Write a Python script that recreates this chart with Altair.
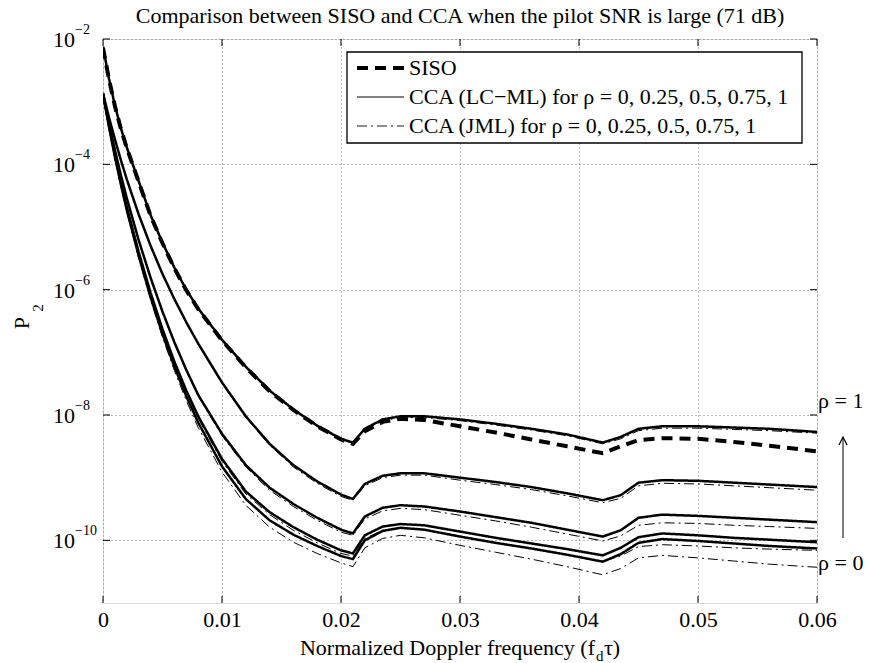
import altair as alt
import pandas as pd

# ---------------- data (log10 of P2) ----------------
x_vals = [0, 0.0005, 0.001, 0.0015, 0.002, 0.003, 0.004, 0.005, 0.006, 0.007, 0.008,
          0.010, 0.012, 0.014, 0.016, 0.018, 0.020, 0.021, 0.022, 0.0235, 0.025, 0.027,
          0.030, 0.033, 0.036, 0.039, 0.042, 0.0435, 0.045, 0.047, 0.050, 0.053, 0.056, 0.060]

siso_log = [-2.14, -2.64, -3.07, -3.43, -3.74, -4.28, -4.82, -5.26, -5.66, -6.01, -6.31,
            -6.81, -7.24, -7.62, -7.92, -8.18, -8.39, -8.46, -8.26, -8.11, -8.06, -8.08,
            -8.18, -8.28, -8.39, -8.50, -8.61, -8.50, -8.40, -8.37, -8.38, -8.43, -8.49, -8.58]

lcml_rho1 = [-2.12, -2.63, -3.06, -3.42, -3.73, -4.27, -4.81, -5.25, -5.65, -6.00, -6.30,
             -6.80, -7.23, -7.61, -7.91, -8.17, -8.38, -8.44, -8.22, -8.07, -8.02, -8.02,
             -8.07, -8.14, -8.22, -8.31, -8.44, -8.35, -8.22, -8.18, -8.18, -8.20, -8.22, -8.27]
lcml_rho075 = [-2.87, -3.25, -3.60, -3.93, -4.24, -4.80, -5.30, -5.75, -6.15, -6.52, -6.86,
               -7.48, -8.02, -8.46, -8.80, -9.06, -9.27, -9.34, -9.10, -8.97, -8.93, -8.93,
               -9.00, -9.07, -9.15, -9.25, -9.36, -9.28, -9.08, -9.04, -9.05, -9.08, -9.11, -9.15]
lcml_rho05 = [-2.87, -3.34, -3.77, -4.17, -4.54, -5.21, -5.81, -6.35, -6.84, -7.28, -7.68,
              -8.30, -8.80, -9.16, -9.42, -9.64, -9.83, -9.89, -9.62, -9.48, -9.44, -9.46,
              -9.54, -9.63, -9.72, -9.83, -9.94, -9.84, -9.64, -9.59, -9.61, -9.64, -9.67, -9.71]
lcml_rho025 = [-2.87, -3.38, -3.85, -4.28, -4.68, -5.40, -6.05, -6.63, -7.15, -7.61, -8.02,
               -8.70, -9.22, -9.55, -9.79, -9.99, -10.16, -10.21, -9.92, -9.78, -9.74, -9.76,
               -9.86, -9.96, -10.05, -10.14, -10.24, -10.12, -9.95, -9.89, -9.92, -9.96, -9.99, -10.03]
lcml_rho0 = [-2.87, -3.40, -3.88, -4.32, -4.73, -5.46, -6.12, -6.71, -7.23, -7.70, -8.12,
             -8.82, -9.34, -9.68, -9.91, -10.09, -10.25, -10.30, -10.00, -9.85, -9.80, -9.83,
             -9.94, -10.04, -10.13, -10.23, -10.34, -10.22, -10.04, -9.98, -10.01, -10.05, -10.09, -10.13]

jml_rho1 = [-2.14, -2.64, -3.07, -3.43, -3.74, -4.28, -4.82, -5.26, -5.66, -6.01, -6.31,
            -6.81, -7.24, -7.62, -7.92, -8.18, -8.39, -8.45, -8.24, -8.09, -8.04, -8.04,
            -8.09, -8.16, -8.24, -8.33, -8.46, -8.38, -8.25, -8.21, -8.21, -8.23, -8.25, -8.29]
jml_rho075 = [-2.88, -3.26, -3.61, -3.94, -4.25, -4.81, -5.31, -5.76, -6.16, -6.53, -6.87,
              -7.50, -8.04, -8.48, -8.83, -9.09, -9.30, -9.36, -9.13, -9.00, -8.96, -8.96,
              -9.04, -9.11, -9.19, -9.29, -9.40, -9.33, -9.13, -9.09, -9.10, -9.13, -9.16, -9.20]
jml_rho05 = [-2.88, -3.35, -3.78, -4.18, -4.55, -5.22, -5.83, -6.37, -6.86, -7.30, -7.70,
             -8.33, -8.83, -9.20, -9.46, -9.68, -9.87, -9.92, -9.66, -9.53, -9.49, -9.51,
             -9.60, -9.69, -9.79, -9.90, -10.01, -9.93, -9.76, -9.72, -9.73, -9.76, -9.78, -9.81]
jml_rho025 = [-2.88, -3.39, -3.86, -4.29, -4.70, -5.42, -6.07, -6.66, -7.18, -7.64, -8.05,
              -8.74, -9.26, -9.59, -9.84, -10.04, -10.21, -10.25, -9.97, -9.84, -9.80, -9.83,
              -9.93, -10.04, -10.13, -10.23, -10.34, -10.25, -10.10, -10.07, -10.09, -10.12, -10.14, -10.16]
jml_rho0 = [-2.88, -3.41, -3.90, -4.34, -4.76, -5.50, -6.16, -6.76, -7.29, -7.77, -8.20,
            -8.91, -9.44, -9.79, -10.03, -10.21, -10.36, -10.42, -10.12, -9.97, -9.92, -9.96,
            -10.08, -10.19, -10.30, -10.42, -10.55, -10.45, -10.28, -10.24, -10.28, -10.33, -10.38, -10.43]

legend_labels = ["SISO",
                 "CCA (LC\u2212ML) for \u03c1 = 0, 0.25, 0.5, 0.75, 1",
                 "CCA (JML) for \u03c1 = 0, 0.25, 0.5, 0.75, 1"]

x_ticks = [0, 0.01, 0.02, 0.03, 0.04, 0.05, 0.06]
y_tick_exps = [-2, -4, -6, -8, -10]

title_text = "Comparison between SISO and CCA when the pilot SNR is large (71 dB)"

# ---------------- build table ----------------
series = [
    (legend_labels[0], "siso", siso_log),
    (legend_labels[1], "lc1", lcml_rho1),
    (legend_labels[1], "lc075", lcml_rho075),
    (legend_labels[1], "lc05", lcml_rho05),
    (legend_labels[1], "lc025", lcml_rho025),
    (legend_labels[1], "lc0", lcml_rho0),
    (legend_labels[2], "j1", jml_rho1),
    (legend_labels[2], "j075", jml_rho075),
    (legend_labels[2], "j05", jml_rho05),
    (legend_labels[2], "j025", jml_rho025),
    (legend_labels[2], "j0", jml_rho0),
]
rows = []
for kind, name, logs in series:
    for xv, e in zip(x_vals, logs):
        rows.append({"x": xv, "p": 10.0 ** e, "kind": kind, "series": name})
df = pd.DataFrame(rows)

FONT = "Liberation Serif"
FS = 22
W, H = 714, 564
DASHES = [[11, 7], [1, 0], [10, 4, 2, 4]]
WIDTHS = [4.0, 1.0, 0.9]

xscale = alt.Scale(domain=[0, 0.06], nice=False, zero=False)
yscale = alt.Scale(type="log", domain=[1e-11, 1e-2], nice=False)

x_axis = alt.Axis(values=x_ticks, title=None, grid=True, ticks=False, domain=False,
                  labelExpr="datum.value == 0 ? '0' : format(datum.value, '.2f')",
                  labelFont=FONT, labelFontSize=FS, labelColor="black",
                  labelPadding=6, gridDash=[1, 3], gridColor="#777777",
                  gridWidth=1, labelFlush=False)
y_axis = alt.Axis(values=[10.0 ** e for e in y_tick_exps], title=None, grid=True,
                  ticks=False, domain=False, labels=False,
                  gridDash=[1, 3], gridColor="#777777", gridWidth=1)

lines = alt.Chart(df).mark_line(color="black", clip=True).encode(
    x=alt.X("x:Q", scale=xscale, axis=x_axis),
    y=alt.Y("p:Q", scale=yscale, axis=y_axis),
    strokeDash=alt.StrokeDash("kind:N", scale=alt.Scale(domain=legend_labels, range=DASHES),
                              legend=None),
    strokeWidth=alt.StrokeWidth("kind:N", scale=alt.Scale(domain=legend_labels, range=WIDTHS),
                                legend=None),
    detail="series:N",
)

# inward tick marks on all four sides
xt_tab = pd.DataFrame({"x": x_ticks})
yt_tab = pd.DataFrame({"p": [10.0 ** e for e in y_tick_exps]})
TK = 7
tick_layers = [
    alt.Chart(xt_tab).mark_rule(color="black", strokeWidth=1).encode(
        x=alt.X("x:Q", scale=xscale, axis=x_axis), y=alt.value(H), y2=alt.value(H - TK)),
    alt.Chart(xt_tab).mark_rule(color="black", strokeWidth=1).encode(
        x=alt.X("x:Q", scale=xscale, axis=x_axis), y=alt.value(0), y2=alt.value(TK)),
    alt.Chart(yt_tab).mark_rule(color="black", strokeWidth=1).encode(
        y=alt.Y("p:Q", scale=yscale, axis=y_axis), x=alt.value(0), x2=alt.value(TK)),
    alt.Chart(yt_tab).mark_rule(color="black", strokeWidth=1).encode(
        y=alt.Y("p:Q", scale=yscale, axis=y_axis), x=alt.value(W), x2=alt.value(W - TK)),
]

# y tick labels 10^e drawn as text with a superscript
ytab = pd.DataFrame({"p": [10.0 ** e for e in y_tick_exps],
                     "exp": ["\u2212" + str(-e) for e in y_tick_exps]})
ybase = alt.Chart(ytab).mark_text(align="right", baseline="middle", font=FONT,
                                  fontSize=FS, color="black", dy=1).encode(
    y=alt.Y("p:Q", scale=yscale, axis=y_axis), x=alt.value(-28), text=alt.value("10"))
yexp = alt.Chart(ytab).mark_text(align="left", baseline="middle", font=FONT,
                                 fontSize=14, color="black", dy=-9).encode(
    y=alt.Y("p:Q", scale=yscale, axis=y_axis), x=alt.value(-28), text="exp:N")

one = pd.DataFrame({"k": [0]})


def text_at(txt, x, y, size=FS, align="left", angle=0, baseline="middle"):
    return alt.Chart(one).mark_text(align=align, baseline=baseline, font=FONT,
                                    fontSize=size, color="black", angle=angle).encode(
        x=alt.value(x), y=alt.value(y), text=alt.value(txt))


title = text_at(title_text, W / 2, -16, FS, "center", baseline="alphabetic")

# y axis title P_2
ptxt = text_at("P", -81, 284, FS, "center", 270)
psub = text_at("2", -65, 269, 15, "center", 270)

# x axis title with subscript
xt1 = text_at("Normalized Doppler frequency (f", 492, 609, FS, "right")
xt2 = text_at("d", 493, 617, 15, "left")
xt3 = text_at("\u03c4)", 501, 609, FS, "left")

# rho annotations and arrow
rho1 = text_at("\u03c1 = 1", 715, 362, FS)
rho0 = text_at("\u03c1 = 0", 715, 524, FS)
arrow = alt.Chart(one).mark_rule(color="black", strokeWidth=1).encode(
    x=alt.value(740), y=alt.value(499), y2=alt.value(398))
head = alt.Chart(one).mark_point(shape="M-0.5,1L0,0L0.5,1", filled=False, color="black",
                                 size=256, strokeWidth=1.2, opacity=1).encode(
    x=alt.value(740), y=alt.value(398))

# legend box
LX0, LX1, LY0, LY1 = 244, 699, 13, 104
box = alt.Chart(one).mark_rect(fill="white", stroke="black", strokeWidth=1.3).encode(
    x=alt.value(LX0), x2=alt.value(LX1), y=alt.value(LY0), y2=alt.value(LY1))
leg_layers = [box]
for i, lab in enumerate(legend_labels):
    yy = 29 + 29 * i
    leg_layers.append(
        alt.Chart(one).mark_rule(color="black", strokeDash=DASHES[i],
                                 strokeWidth=WIDTHS[i]).encode(
            x=alt.value(254), x2=alt.value(301), y=alt.value(yy)))
    leg_layers.append(text_at(lab, 306, yy, FS, "left"))

chart = alt.layer(
    lines, *tick_layers, ybase, yexp, ptxt, psub, xt1, xt2, xt3, rho1, rho0, arrow, head,
    title, *leg_layers
).properties(
    width=W, height=H,
    autosize=alt.AutoSizeParams(type="none"),
    padding={"left": 103, "top": 39, "right": 52, "bottom": 60},
).configure_view(
    stroke="black", strokeWidth=1.5
).configure(background="white")

chart.save("out.html", embed_options={"renderer": "svg", "actions": False})
